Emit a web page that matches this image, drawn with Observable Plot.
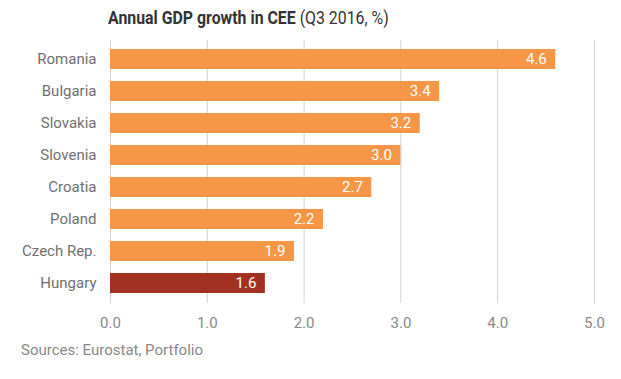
<!DOCTYPE html>
<html>
<head>
<meta charset="utf-8">
<script src="https://cdn.jsdelivr.net/npm/d3@7"></script>
<script src="https://cdn.jsdelivr.net/npm/@observablehq/plot@0.6"></script>
<style>
  body { margin: 0; background: #fff; font-family: Roboto, sans-serif; }
  #wrap { position: relative; width: 621px; height: 379px; }
  #title { position: absolute; left: 108px; top: 6px; font-size: 19px; color: #333; white-space: nowrap; transform: scaleX(0.835); transform-origin: 0 0; }
  #title b { font-weight: 700; }
  #caption { position: absolute; left: 21px; top: 341px; font-size: 15px; color: #888; white-space: nowrap; }
  #chart { position: absolute; left: 0; top: 0; }
</style>
</head>
<body>
<div id="wrap">
  <div id="chart"></div>
  <div id="title"><b>Annual GDP growth in CEE</b> (Q3 2016, %)</div>
  <div id="caption">Sources: Eurostat, Portfolio</div>
</div>
<script>
const countries = ["Romania", "Bulgaria", "Slovakia", "Slovenia", "Croatia", "Poland", "Czech Rep.", "Hungary"];
const growth = [4.6, 3.4, 3.2, 3.0, 2.7, 2.2, 1.9, 1.6];
const highlight = "Hungary";
const xTicks = [0, 1, 2, 3, 4, 5];

const data = countries.map((c, i) => ({country: c, value: growth[i]}));

const plot = Plot.plot({
  width: 621,
  height: 340,
  marginTop: 40,
  marginBottom: 37,
  marginLeft: 110,
  marginRight: 27,
  style: {fontFamily: "Roboto, sans-serif", fontSize: "15px", background: "transparent"},
  x: {domain: [0, 5], ticks: xTicks, tickFormat: d3.format(".1f")},
  y: {domain: countries, paddingInner: 0.37, paddingOuter: 0.19},
  marks: [
    Plot.gridX(xTicks, {stroke: "#d0d0d0", strokeOpacity: 1, strokeWidth: 1}),
    Plot.barX(data, {
      x: "value", y: "country",
      fill: d => d.country === highlight ? "#A23121" : "#F79646"
    }),
    Plot.text(data, {
      x: "value", y: "country",
      text: d => d3.format(".1f")(d.value),
      textAnchor: "end", dx: -9, fill: "white", fontSize: 15
    }),
    Plot.axisX(xTicks, {tickSize: 0, tickPadding: 14, tickFormat: d3.format(".1f"), color: "#888", fontSize: 15, label: null}),
    Plot.axisY({tickSize: 0, tickPadding: 14, color: "#707070", fontSize: 15, label: null})
  ]
});
document.getElementById("chart").appendChild(plot);
</script>
</body>
</html>
